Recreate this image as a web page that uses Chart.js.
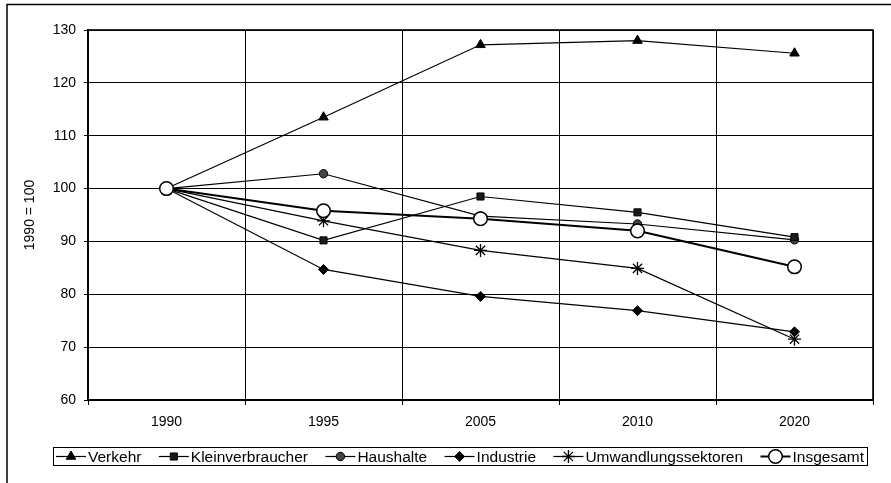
<!DOCTYPE html>
<html><head><meta charset="utf-8">
<script src="https://cdn.jsdelivr.net/npm/chart.js@4/dist/chart.umd.min.js"></script>
<style>html,body{margin:0;padding:0;background:#fff}#wrap{width:891px;height:483px;position:relative}</style>
</head><body><div id="wrap"><canvas id="c" width="891" height="483"></canvas></div>
<script>
const years = ['1990', '1995', '2005', '2010', '2020'];
const verkehr = [100, 113.5, 127.2, 128.0, 125.6];
const kleinverbraucher = [100, 90.2, 98.5, 95.5, 90.8];
const haushalte = [100, 102.8, 94.8, 93.3, 90.3];
const industrie = [100, 84.7, 79.6, 76.9, 72.9];
const umwandlung = [100, 93.9, 88.3, 84.9, 71.5];
const insgesamt = [100, 95.8, 94.3, 92.0, 85.2];
const seriesNames = ['Verkehr', 'Kleinverbraucher', 'Haushalte', 'Industrie', 'Umwandlungssektoren', 'Insgesamt'];
const yMin = 60, yMax = 130, yStep = 10;
const yTitle = '1990 = 100';

const FONT = '"Liberation Sans", Arial, sans-serif';

function ds(label, data, style, radius, bg, lw, bw, order) {
  return {
    label, data, pointStyle: style, pointRadius: radius, pointHoverRadius: radius,
    pointBackgroundColor: bg, pointBorderColor: '#000', pointBorderWidth: bw,
    borderColor: '#000', borderWidth: lw, backgroundColor: bg, tension: 0, fill: false, order
  };
}

const datasets = [
  ds(seriesNames[0], verkehr, 'triangle', 5.5, '#000', 1.2, 1, 1),
  ds(seriesNames[1], kleinverbraucher, 'rect', 5, '#1a1a1a', 1.2, 1, 2),
  ds(seriesNames[2], haushalte, 'circle', 4.2, '#444', 1.2, 1, 3),
  ds(seriesNames[3], industrie, 'rectRot', 5, '#000', 1.2, 1, 4),
  ds(seriesNames[4], umwandlung, 'star', 6.5, '#000', 1.2, 1.3, 5),
  ds(seriesNames[5], insgesamt, 'circle', 6.8, '#fff', 2, 1.5, 0)
];

const framePlugin = {
  id: 'frame',
  beforeDraw(chart) {
    const ctx = chart.ctx;
    ctx.save();
    ctx.fillStyle = '#fff';
    ctx.fillRect(0, 0, chart.width, chart.height);
    ctx.strokeStyle = '#000';
    ctx.lineWidth = 1.5;
    ctx.beginPath();
    ctx.moveTo(7, chart.height);
    ctx.lineTo(7, 4.5);
    ctx.lineTo(chart.width, 4.5);
    ctx.stroke();
    ctx.restore();
  },
  afterDatasetsDraw(chart) {
    const a = chart.chartArea, ctx = chart.ctx;
    ctx.save();
    ctx.strokeStyle = '#000';
    ctx.lineWidth = 1.6;
    ctx.strokeRect(a.left, a.top, a.right - a.left, a.bottom - a.top);
    ctx.restore();
  }
};

function drawMarker(ctx, d, x, y) {
  const opts = {pointStyle: d.pointStyle, radius: d.pointRadius, rotation: 0, borderWidth: d.pointBorderWidth};
  ctx.fillStyle = d.pointBackgroundColor;
  ctx.strokeStyle = '#000';
  ctx.lineWidth = d.pointBorderWidth;
  Chart.helpers.drawPoint(ctx, opts, x, y);
}

const legendPlugin = {
  id: 'customLegend',
  afterDraw(chart) {
    const ctx = chart.ctx;
    const box = {l: 53, t: 447, r: 867, b: 465};
    ctx.save();
    ctx.strokeStyle = '#000';
    ctx.lineWidth = 1;
    ctx.strokeRect(box.l + 0.5, box.t + 0.5, box.r - box.l, box.b - box.t);
    ctx.font = '15.5px ' + FONT;
    ctx.textBaseline = 'middle';
    const sym = 30, g = 2, pad = 3;
    const items = chart.data.datasets.map(d => ({d, tw: ctx.measureText(d.label).width}));
    const total = items.reduce((s, it) => s + sym + g + it.tw, 0);
    const space = (box.r - box.l - 2 * pad - total) / (items.length - 1);
    const cy = (box.t + box.b) / 2 + 0.5;
    let x = box.l + pad;
    items.forEach(it => {
      ctx.strokeStyle = '#000';
      ctx.lineWidth = it.d.borderWidth;
      ctx.beginPath();
      ctx.moveTo(x, cy);
      ctx.lineTo(x + sym, cy);
      ctx.stroke();
      drawMarker(ctx, it.d, x + sym / 2, cy);
      ctx.fillStyle = '#000';
      ctx.fillText(it.d.label, x + sym + g, cy + 1);
      x += sym + g + it.tw + space;
    });
    ctx.restore();
  }
};

new Chart(document.getElementById('c'), {
  type: 'line',
  data: {labels: years, datasets},
  plugins: [framePlugin, legendPlugin],
  options: {
    responsive: false,
    animation: false,
    events: [],
    layout: {padding: {left: 8, right: 18, top: 30, bottom: 53}},
    plugins: {legend: {display: false}, tooltip: {enabled: false}},
    scales: {
      x: {
        offset: true,
        grid: {offset: true, color: '#000', lineWidth: 1, tickLength: 5, tickColor: '#000'},
        border: {color: '#000', width: 1.5},
        ticks: {color: '#000', font: {family: FONT, size: 14}, padding: 9, maxRotation: 0},
        afterFit(s) { s.height = 30; }
      },
      y: {
        min: yMin, max: yMax,
        grid: {color: '#000', lineWidth: 1, tickLength: 4, tickColor: '#000'},
        border: {color: '#000', width: 2},
        ticks: {stepSize: yStep, color: '#000', font: {family: FONT, size: 14}, padding: 8},
        title: {display: true, text: yTitle, color: '#000', font: {family: FONT, size: 14}, padding: {top: 14, bottom: 0}},
        afterFit(s) { s.width = 80; }
      }
    }
  }
});
</script></body></html>
